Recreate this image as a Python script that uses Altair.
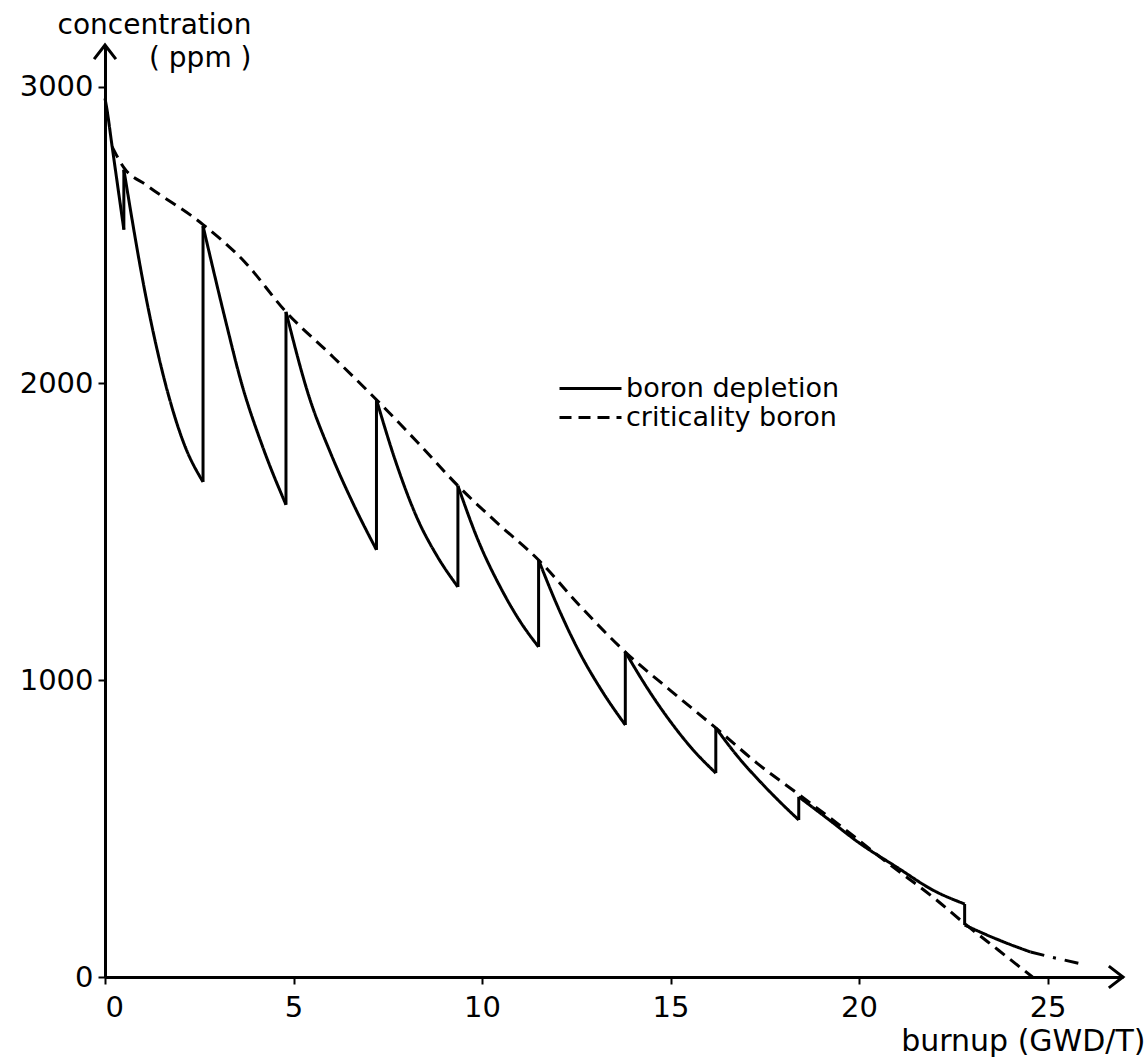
import altair as alt
import pandas as pd

# axis extents (burnup GWD/T, concentration ppm)
X_MAX = 27
Y_MAX = 3140
x_ticks = [0, 5, 10, 15, 20, 25]
y_ticks = [0, 1000, 2000, 3000]

# boron depletion: decay segments between refuelling/boration jumps
dep_seg_x = [
    [0.0, 0.04, 0.19, 0.5],
    [0.5, 1.1, 1.6, 2.1, 2.6],
    [2.6, 3.2, 3.6, 4.2, 4.8],
    [4.8, 5.4, 6.0, 6.6, 7.2],
    [7.2, 7.7, 8.3, 8.8, 9.36],
    [9.36, 9.9, 10.5, 11.0, 11.5],
    [11.5, 12.0, 12.6, 13.2, 13.8],
    [13.8, 14.4, 15.0, 15.6, 16.2],
    [16.2, 16.8, 17.4, 17.9, 18.4],
    [18.4, 19.2, 20.0, 21.0, 22.0, 22.8],
    [22.8, 23.7, 24.55],
]
dep_seg_y = [
    [2960, 2932, 2797, 2518],
    [2720, 2282, 2000, 1795, 1668],
    [2530, 2210, 2010, 1780, 1591],
    [2241, 1960, 1760, 1590, 1439],
    [1945, 1740, 1540, 1420, 1314],
    [1655, 1470, 1310, 1200, 1112],
    [1405, 1250, 1090, 960, 849],
    [1095, 970, 860, 765, 687],
    [839, 740, 655, 590, 529],
    [607, 530, 452, 370, 290, 246],
    [175, 125, 84],
]

# vertical jumps of the depletion curve (burnup, low ppm, high ppm)
jump_x = [0.5, 2.6, 4.8, 7.2, 9.36, 11.5, 13.8, 16.2, 18.4, 22.8]
jump_lo = [2518, 1668, 1591, 1439, 1314, 1112, 849, 687, 529, 175]
jump_hi = [2720, 2530, 2241, 1945, 1655, 1405, 1095, 839, 607, 246]

# dash-dot tail of the depletion curve
tail_x = [24.55, 25.2, 25.9]
tail_y = [84, 64, 44]

# criticality boron (dashed)
crit_x = [0.19, 0.5, 1.1, 2.6, 3.7, 4.8, 6.0, 7.2, 8.3, 9.36, 10.4, 11.5,
          12.6, 13.8, 15.0, 16.2, 17.3, 18.4, 19.5, 20.7, 22.0, 22.8, 23.7, 24.6]
crit_y = [2797, 2727, 2668, 2535, 2410, 2241, 2095, 1945, 1800, 1655, 1530, 1405,
          1250, 1095, 965, 839, 720, 615, 510, 390, 265, 180, 90, 0]

series_names = ["boron depletion", "criticality boron"]

rows = []
for s, (xs, ys) in enumerate(zip(dep_seg_x, dep_seg_y)):
    for x, y in zip(xs, ys):
        rows.append({"burnup": x, "ppm": y, "series": series_names[0], "seg": f"d{s}"})
for x, y in zip(crit_x, crit_y):
    rows.append({"burnup": x, "ppm": y, "series": series_names[1], "seg": "crit"})
df = pd.DataFrame(rows)
jumps_df = pd.DataFrame({"burnup": jump_x, "lo": jump_lo, "hi": jump_hi})
tail_df = pd.DataFrame({"burnup": tail_x, "ppm": tail_y})
arrows_df = pd.DataFrame({"burnup": [0, X_MAX], "ppm": [Y_MAX, 0],
                          "dir": ["up", "right"]})

FONT = "DejaVu Sans"

x_scale = alt.Scale(domain=[0, X_MAX], nice=False, zero=False)
y_scale = alt.Scale(domain=[0, Y_MAX], nice=False, zero=False)

x_enc = alt.X("burnup:Q", scale=x_scale,
              axis=alt.Axis(values=x_ticks, format="d", title="burnup (GWD/T)",
                            titleX=1040, titleY=73, titleAlign="right",
                            titleBaseline="alphabetic", titleAnchor="end",
                            titleFontSize=30, titleFont=FONT, titleFontWeight="normal",
                            labelFontSize=29, labelFont=FONT, labelPadding=9,
                            tickSize=7, tickWidth=2, domainWidth=3,
                            domainColor="black", tickColor="black",
                            labelColor="black", titleColor="black", grid=False))
y_enc = alt.Y("ppm:Q", scale=y_scale,
              axis=alt.Axis(values=y_ticks, format="d",
                            title=["concentration", "( ppm )"],
                            titleX=146, titleY=-12, titleAngle=0, titleAlign="right",
                            titleBaseline="alphabetic", titleLineHeight=33,
                            titleFontSize=28, titleFont=FONT, titleFontWeight="normal",
                            labelFontSize=29, labelFont=FONT, labelPadding=5,
                            tickSize=7, tickWidth=2, domainWidth=3,
                            domainColor="black", tickColor="black",
                            labelColor="black", titleColor="black", grid=False))

lines = alt.Chart(df).mark_line(color="black", strokeWidth=3,
                                interpolate="monotone").encode(
    x=x_enc,
    y=y_enc,
    detail=alt.Detail("seg:N"),
    strokeDash=alt.StrokeDash(
        "series:N",
        scale=alt.Scale(domain=series_names, range=[[1, 0], [12, 7]]),
        legend=alt.Legend(title=None, orient="none", legendX=453, legendY=329,
                          symbolType="stroke", symbolSize=3844, symbolStrokeWidth=3,
                          symbolStrokeColor="black", clipHeight=29, rowPadding=0,
                          padding=0, labelOffset=3, labelFontSize=27, labelFont=FONT,
                          labelColor="black", labelBaseline="middle", labelLimit=500),
    ),
)

jumps = alt.Chart(jumps_df).mark_rule(color="black", strokeWidth=3).encode(
    x=alt.X("burnup:Q", scale=x_scale),
    y=alt.Y("lo:Q", scale=y_scale),
    y2="hi:Q",
)

tail = alt.Chart(tail_df).mark_line(color="black", strokeWidth=3,
                                    strokeDash=[14, 9, 3, 9]).encode(
    x=alt.X("burnup:Q", scale=x_scale),
    y=alt.Y("ppm:Q", scale=y_scale),
)

up_arrow = alt.Chart(arrows_df[arrows_df["dir"] == "up"]).mark_point(
    shape="M-0.5,0.65 L0,0 L0.5,0.65", size=1900, filled=False,
    stroke="black", strokeWidth=3, opacity=1).encode(
    x=alt.X("burnup:Q", scale=x_scale),
    y=alt.Y("ppm:Q", scale=y_scale),
)
right_arrow = alt.Chart(arrows_df[arrows_df["dir"] == "right"]).mark_point(
    shape="M-0.65,-0.5 L0,0 L-0.65,0.5", size=1900, filled=False,
    stroke="black", strokeWidth=3, opacity=1).encode(
    x=alt.X("burnup:Q", scale=x_scale),
    y=alt.Y("ppm:Q", scale=y_scale),
)

chart = alt.layer(lines, jumps, tail, up_arrow, right_arrow).properties(
    width=1018, height=932,
    autosize=alt.AutoSizeParams(type="none"),
    padding={"left": 105, "top": 45, "right": 24, "bottom": 82},
    background="white",
).configure_view(stroke=None)

chart.save("out.html", embed_options={"renderer": "svg", "actions": False})
